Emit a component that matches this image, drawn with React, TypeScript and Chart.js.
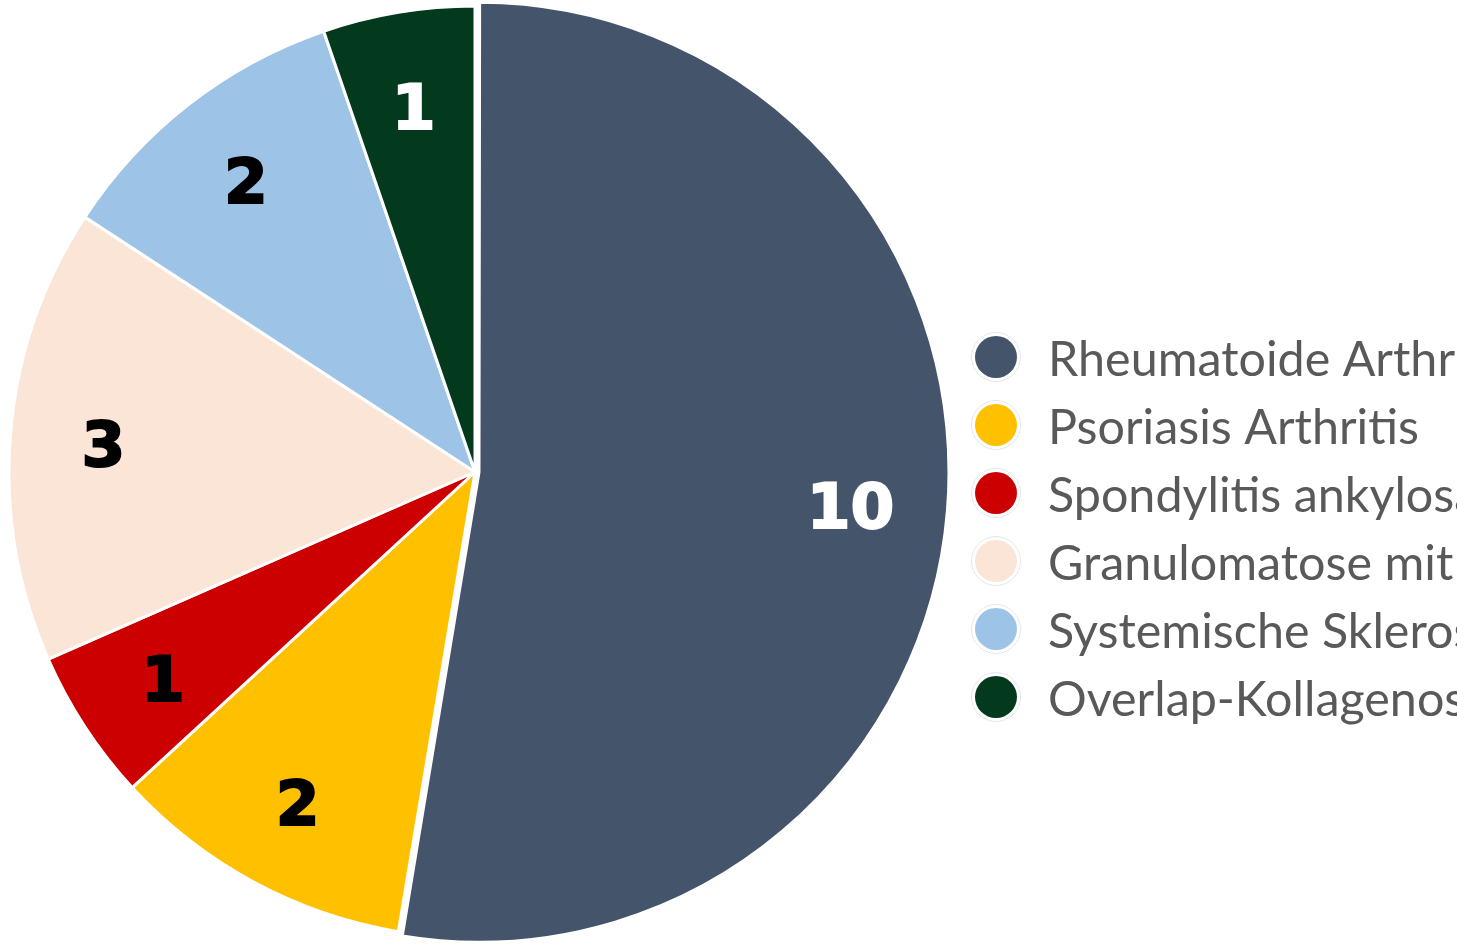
import React, { useEffect, useRef } from "react";
import { Chart, ArcElement, PieController } from "chart.js";

Chart.register(ArcElement, PieController);

const categories = [
  "Rheumatoide Arthritis",
  "Psoriasis Arthritis",
  "Spondylitis ankylosans",
  "Granulomatose mit Polyangiitis",
  "Systemische Sklerose",
  "Overlap-Kollagenose",
];
const counts = [10, 2, 1, 3, 2, 1];
const sliceColors = ["#44546A", "#FFC000", "#CC0000", "#FBE5D6", "#9DC3E6", "#033A1E"];
const labelColors = ["#FFFFFF", "#000000", "#000000", "#000000", "#000000", "#FFFFFF"];
const sliceOffsets = [16, 0, 0, 0, 0, 0];

const W = 1457;
const H = 944;

const valueLabelsPlugin = {
  id: "valueLabels",
  afterDatasetsDraw(chart: any) {
    const ctx = chart.ctx;
    const meta = chart.getDatasetMeta(0);
    const ds = chart.data.datasets[0];
    const fontSize = 63;
    ctx.save();
    ctx.font = `bold ${fontSize}px "DejaVu Sans"`;
    ctx.textAlign = "center";
    ctx.textBaseline = "alphabetic";
    ctx.lineJoin = "miter";
    meta.data.forEach((arc: any, i: number) => {
      const p = arc.getProps(["x", "y", "startAngle", "endAngle", "outerRadius"], true);
      const mid = (p.startAngle + p.endAngle) / 2;
      const off = (arc.options.offset || 0) / 4;
      const r = p.outerRadius * 0.8 + off;
      const cx = p.x + Math.cos(mid) * r;
      const cy = p.y + Math.sin(mid) * r + 2;
      ctx.fillStyle = labelColors[i];
      ctx.strokeStyle = labelColors[i];
      ctx.lineWidth = 2;
      const by = cy + (0.729 * fontSize) / 2;
      ctx.strokeText(String(ds.data[i]), cx, by);
      ctx.fillText(String(ds.data[i]), cx, by);
    });
    ctx.restore();
  },
};

const legendPlugin = {
  id: "sideLegend",
  afterDraw(chart: any) {
    const ctx = chart.ctx;
    const markerX = chart.chartArea.right + 46;
    const textX = markerX + 52;
    const firstY = 357;
    const rowH = 68;
    const fontSize = 48;
    ctx.save();
    ctx.font = `${fontSize}px Lato`;
    const ref = ctx.measureText("Psoriasis Arthritis").width;
    const sx = 371 / ref;
    categories.forEach((label, i) => {
      const cy = firstY + i * rowH;
      ctx.beginPath();
      ctx.arc(markerX, cy, 24.5, 0, Math.PI * 2);
      ctx.strokeStyle = "#E3E6EA";
      ctx.lineWidth = 1;
      ctx.stroke();
      ctx.beginPath();
      ctx.arc(markerX, cy, 21, 0, Math.PI * 2);
      ctx.fillStyle = sliceColors[i];
      ctx.fill();
      ctx.save();
      ctx.translate(textX, cy + 19);
      ctx.scale(sx, 1);
      ctx.fillStyle = "#595959";
      ctx.textAlign = "left";
      ctx.textBaseline = "alphabetic";
      ctx.fillText(label, 0, 0);
      ctx.restore();
    });
    ctx.restore();
  },
};

export default function App() {
  const ref = useRef<HTMLCanvasElement | null>(null);
  useEffect(() => {
    if (!ref.current) return;
    const chart = new Chart(ref.current, {
      type: "pie",
      data: {
        labels: categories,
        datasets: [
          {
            data: counts,
            backgroundColor: sliceColors,
            borderColor: "#FFFFFF",
            borderWidth: 3,
            offset: sliceOffsets,
          } as any,
        ],
      },
      options: {
        responsive: false,
        animation: false,
        events: [],
        radius: 466,
        rotation: 0,
        layout: { padding: { left: 0, top: 0, right: W - 950, bottom: 0 } },
        plugins: {},
      } as any,
      plugins: [valueLabelsPlugin, legendPlugin],
    });
    return () => chart.destroy();
  }, []);
  return (
    <div style={{ position: "fixed", left: 0, top: 0, width: W, height: H, background: "#FFFFFF", overflow: "hidden" }}>
      <canvas ref={ref} width={W} height={H} style={{ display: "block" }} />
    </div>
  );
}
